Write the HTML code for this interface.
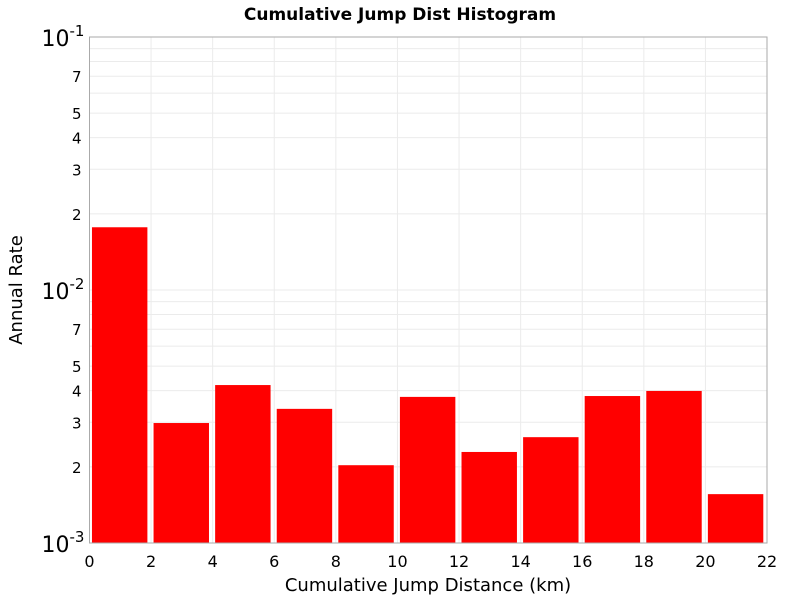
<!DOCTYPE html>
<html><head><meta charset="utf-8"><style>body{margin:0;background:#fff}svg{display:block;font-family:"DejaVu Sans","Liberation Sans",sans-serif}</style></head>
<body>
<svg id="chart" width="800" height="600" xmlns="http://www.w3.org/2000/svg">
<text x="400" y="20" text-anchor="middle" font-size="17" font-weight="bold">Cumulative Jump Dist Histogram</text>
<g id="grid"></g><g id="bars"></g><g id="axes"></g>
<text x="428" y="591" text-anchor="middle" font-size="18">Cumulative Jump Distance (km)</text>
<text transform="translate(22,290) rotate(-90)" text-anchor="middle" font-size="18">Annual Rate</text>
</svg>
<script>
const binStarts=[0,2,4,6,8,10,12,14,16,18,20];
const rates=[0.0177,0.00298,0.00421,0.00339,0.00203,0.00378,0.00229,0.00262,0.00381,0.00399,0.00156];
const xTicks=[0,2,4,6,8,10,12,14,16,18,20,22];
const yMinorLabels=[2,3,4,5,7];
const L=89.5,R=767,T=37,B=543,xMax=22,logMin=-3,logMax=-1;
const NS="http://www.w3.org/2000/svg";
const xs=v=>L+(v/xMax)*(R-L);
const ys=v=>B-(Math.log10(v)-logMin)/(logMax-logMin)*(B-T);
function mk(t,a,p){const e=document.createElementNS(NS,t);for(const k in a)e.setAttribute(k,a[k]);p.appendChild(e);return e;}
const grid=document.getElementById('grid'),bars=document.getElementById('bars'),axes=document.getElementById('axes');
xTicks.forEach(t=>{const l=mk('line',{x1:xs(t),x2:xs(t),y1:T,y2:B,stroke:'#ebebeb'},grid);


const tx=mk('text',{x:xs(t),y:B+24,'text-anchor':'middle','font-size':16},axes);tx.textContent=t;

});
for(let d=-3;d<-1;d++){for(let m=1;m<10;m++){const v=m*Math.pow(10,d);const y=ys(v);
const l=mk('line',{x1:L,x2:R,y1:y,y2:y,stroke:'#ebebeb'},grid);


if(yMinorLabels.includes(m)){const tx=mk('text',{x:L-8,y:y+6,'text-anchor':'end','font-size':15},axes);tx.textContent=m;

}}}
[-3,-2,-1].forEach(e=>{const y=ys(Math.pow(10,e));const tx=mk('text',{x:L-48,y:y+9,'font-size':22},axes);


tx.textContent='10';const s=mk('tspan',{dy:-10,'font-size':15},tx);s.textContent=String(e);});
binStarts.forEach((s,i)=>{const x0=xs(s+0.08),x1=xs(s+1.88),y=ys(rates[i]);
const r=mk('rect',{x:x0,y:y,width:x1-x0,height:B-y,fill:'#ff0000'},bars);

});
const f=mk('rect',{x:L,y:T,width:R-L,height:B-T,fill:'none',stroke:'#aaa'},axes);


</script>
</body></html>
